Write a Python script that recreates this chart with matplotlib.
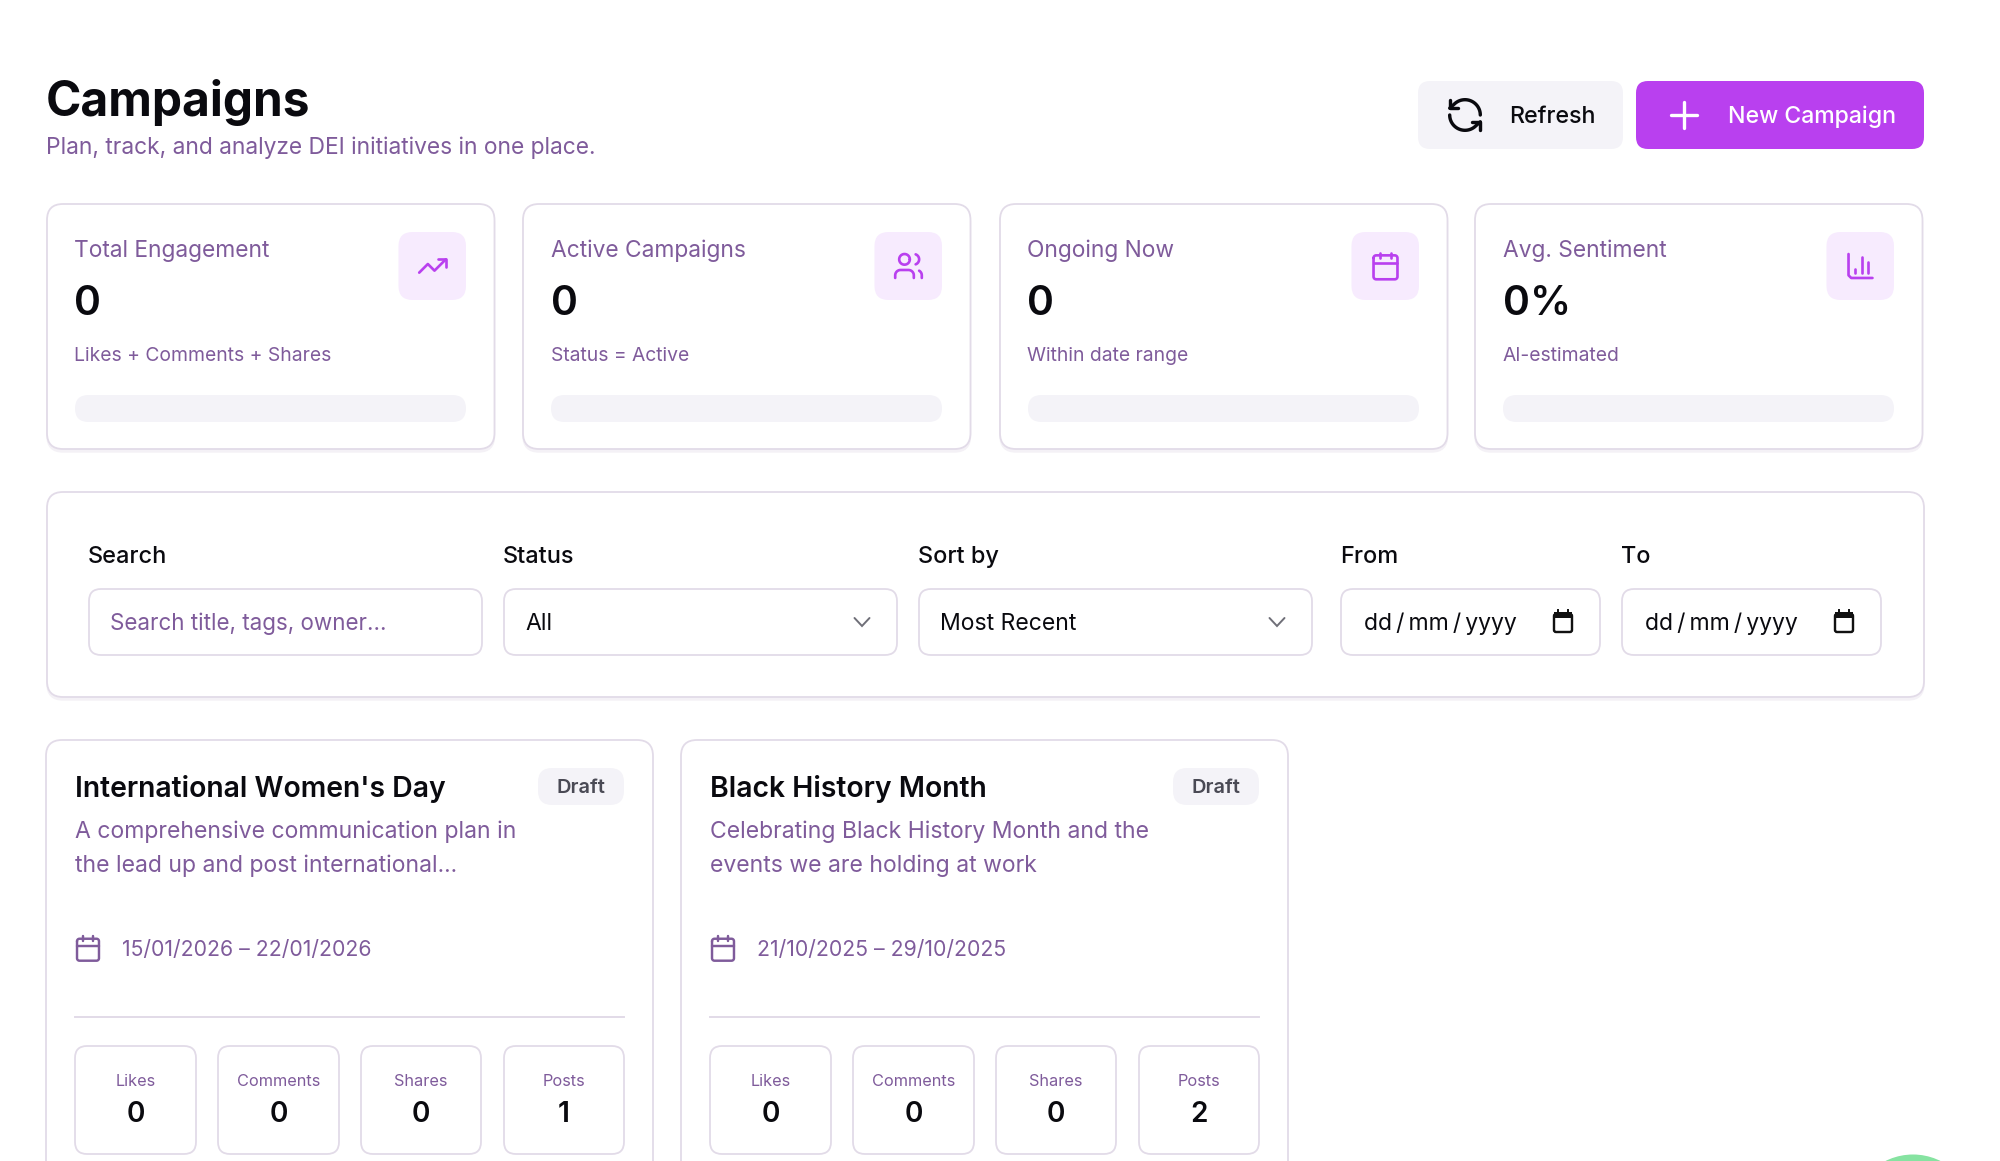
"""
Campaigns dashboard screenshot redrawn with matplotlib
"""

import numpy as np
import matplotlib
matplotlib.use('Agg')
import matplotlib.pyplot as plt
from matplotlib.patches import FancyBboxPatch, Circle

plt.rcParams['font.family'] = ['Inter', 'DejaVu Sans']

# Content
page_title = 'Campaigns'
page_subtitle = 'Plan, track, and analyze DEI initiatives in one place.'
refresh_label = 'Refresh'
new_label = 'New Campaign'

kpi_titles = ['Total Engagement', 'Active Campaigns', 'Ongoing Now', 'Avg. Sentiment']
kpi_values = ['0', '0', '0', '0%']
kpi_notes = ['Likes + Comments + Shares', 'Status = Active', 'Within date range', 'AI-estimated']
kpi_icons = ['trend', 'users', 'calendar', 'bars']

filter_labels = ['Search', 'Status', 'Sort by', 'From', 'To']
filter_texts = ['Search title, tags, owner...', 'All', 'Most Recent',
                'dd\u2009/\u2009mm\u2009/\u2009yyyy', 'dd\u2009/\u2009mm\u2009/\u2009yyyy']

campaign_titles = ["International Women's Day", 'Black History Month']
campaign_status = ['Draft', 'Draft']
campaign_desc = [['A comprehensive communication plan in', 'the lead up and post international...'],
                 ['Celebrating Black History Month and the', 'events we are holding at work']]
campaign_dates = ['15/01/2026 – 22/01/2026', '21/10/2025 – 29/10/2025']
stat_labels = ['Likes', 'Comments', 'Shares', 'Posts']
campaign_stats = [[0, 0, 0, 1], [0, 0, 0, 2]]

# Colours
INK = '#0a0a0f'
MUTED = '#7f5b9b'
ACCENT = '#b940ef'
BORDER = '#e2dbe8'
SHADOW = '#f4f1f6'
SOFT = '#f4f3f8'
ICON_BG = '#f7ebfe'

W, H = 2000, 1161
fig = plt.figure(figsize=(W / 100, H / 100), dpi=100)
ax = fig.add_axes([0, 0, 1, 1])
ax.set_xlim(0, W)
ax.set_ylim(H, 0)
ax.axis('off')


def box(x0, y0, x1, y1, r, fc='white', ec='none', lw=0, shadow=False):
    # lw given in screen pixels
    if shadow:
        ax.add_patch(FancyBboxPatch((x0, y0 + 3), x1 - x0, y1 - y0,
                                    boxstyle=f'round,pad=0,rounding_size={r}',
                                    fc=SHADOW, ec=SHADOW, lw=1.0))
    ax.add_patch(FancyBboxPatch((x0, y0), x1 - x0, y1 - y0,
                                boxstyle=f'round,pad=0,rounding_size={r}',
                                fc=fc, ec=ec, lw=lw * 0.72))


def label(x, y, s, px, color=INK, weight='normal', ha='left'):
    # the glyph side bearing pushes left aligned text about a pixel to the right
    if ha == 'left':
        x -= 1
    return ax.text(x, y, s, fontsize=px * 0.72, color=color, fontweight=weight,
                   ha=ha, va='baseline')


def stroke(cx, cy, s, pts, color, lw=2.0):
    # pts are in a 24-unit icon grid centred on (12, 12)
    pts = np.asarray(pts, dtype=float)
    ax.plot(cx + (pts[:, 0] - 12) * s, cy + (pts[:, 1] - 12) * s, color=color,
            lw=lw * s * 0.72, solid_capstyle='round', solid_joinstyle='round')


def arc(x, y, r, a0, a1, n=40):
    t = np.radians(np.linspace(a0, a1, n))
    return np.column_stack([x + r * np.cos(t), y + r * np.sin(t)])


def icon_calendar(cx, cy, s, color):
    outline = np.vstack([arc(5, 6, 2, 180, 270, 8), arc(19, 6, 2, 270, 360, 8),
                         arc(19, 20, 2, 0, 90, 8), arc(5, 20, 2, 90, 180, 8), arc(5, 6, 2, 180, 181, 2)])
    stroke(cx, cy, s, outline, color)
    stroke(cx, cy, s, [(8, 2), (8, 6)], color)
    stroke(cx, cy, s, [(16, 2), (16, 6)], color)
    stroke(cx, cy, s, [(3, 10), (21, 10)], color)


def icon_trend(cx, cy, s, color):
    stroke(cx, cy, s, [(2, 17), (8.5, 10.5), (13.5, 15.5), (22, 7)], color)
    stroke(cx, cy, s, [(16, 7), (22, 7), (22, 13)], color)


def icon_users(cx, cy, s, color):
    stroke(cx, cy, s, arc(9, 7, 4, 0, 360), color)
    stroke(cx, cy, s, np.vstack([[(2, 21), (2, 19)], arc(6, 19, 4, 180, 270, 12),
                                 arc(12, 19, 4, 270, 360, 12), [(16, 21)]]), color)
    stroke(cx, cy, s, arc(16, 7, 4, -70, 70, 14), color)
    stroke(cx, cy, s, np.vstack([arc(18, 19, 4, -60, 0, 10), [(22, 21)]]), color)


def icon_bars(cx, cy, s, color):
    stroke(cx, cy, s, [(3, 3), (3, 19), (5, 21), (21, 21)], color)
    stroke(cx, cy, s, [(18, 17), (18, 9)], color)
    stroke(cx, cy, s, [(13, 17), (13, 5)], color)
    stroke(cx, cy, s, [(8, 17), (8, 14)], color)


def icon_refresh(cx, cy, s, color):
    stroke(cx, cy, s, np.vstack([arc(12, 12, 9, 0, -135), [(3, 8)]]), color)
    stroke(cx, cy, s, [(3, 3), (3, 8), (8, 8)], color)
    stroke(cx, cy, s, np.vstack([arc(12, 12, 9, 180, 45), [(21, 16)]]), color)
    stroke(cx, cy, s, [(16, 16), (21, 16), (21, 21)], color)


ICONS = {'trend': icon_trend, 'users': icon_users, 'calendar': icon_calendar, 'bars': icon_bars}

# Header
label(47, 116, page_title, 47.8, weight='bold')
label(47, 154, page_subtitle, 22.8, color=MUTED)

box(1418, 81, 1623, 149, 12, fc=SOFT)
icon_refresh(1465, 115, 1.7, INK)
label(1510, 123, refresh_label, 23.3, weight='medium')

box(1636, 81, 1924, 149, 12, fc=ACCENT)
ax.plot([1671, 1697], [115, 115], color='white', lw=2.4, solid_capstyle='round')
ax.plot([1684, 1684], [102, 128], color='white', lw=2.4, solid_capstyle='round')
label(1729, 123, new_label, 23.1, color='white', weight='medium')

# KPI cards
kpi_left = [47, 523, 1000, 1475]
for i, (x0, title, value, note, icon) in enumerate(zip(kpi_left, kpi_titles, kpi_values, kpi_notes, kpi_icons)):
    tx = x0 + 28 + i % 2
    box(x0, 204, x0 + 447.5, 449, 16, ec=BORDER, lw=1.8, shadow=True)
    label(tx, 257, title, 22.8, color=MUTED)
    label(tx, 315, value, 41, weight='semibold')
    label(tx, 361, note, 19.3, color=MUTED)
    box(x0 + 28, 395, x0 + 419, 422, 13.5, fc=SOFT)
    box(x0 + 351.5, 232, x0 + 419, 300, 14, fc=ICON_BG)
    ICONS[icon](x0 + 385.5, 266, 1.33, ACCENT)

# Filter panel
box(47, 492, 1924, 697, 16, ec=BORDER, lw=1.8, shadow=True)
input_left = [89, 504, 919, 1341, 1622]
input_right = [482, 897, 1312, 1600, 1881]
for i, (x0, x1, head, txt) in enumerate(zip(input_left, input_right, filter_labels, filter_texts)):
    label(x0, 563, head, 23.5, weight='medium')
    box(x0, 589, x1, 655, 12, ec=BORDER, lw=1.8)
    label(x0 + 22 + (2 if i > 2 else 0), 630, txt, 22.4 if i == 0 else 23, color=MUTED if i == 0 else INK)
    if i in (1, 2):
        cx = x1 - 35
        ax.plot([cx - 7.5, cx, cx + 7.5], [618, 626, 618], color='#6f6f78', lw=1.4,
                solid_capstyle='round', solid_joinstyle='miter')
    if i > 2:
        cx = x1 - 37
        box(cx - 9, 614, cx + 9, 632, 2, ec='#111111', lw=2.4)
        ax.fill_between([cx - 9, cx + 9], 612, 618, color='#111111', lw=0)
        ax.plot([cx - 5, cx - 5], [610, 614], color='#111111', lw=1.4)
        ax.plot([cx + 5, cx + 5], [610, 614], color='#111111', lw=1.4)

# Campaign cards, the bottom is cut off by the screenshot
card_shift = [0, 635]
stat_left = [75, 218, 361, 504]
stat_right = [196, 339, 481, 624]
for dx, title, status, desc, dates, stats in zip(card_shift, campaign_titles, campaign_status,
                                                 campaign_desc, campaign_dates, campaign_stats):
    box(46 + dx, 740, 653 + dx, 1300, 16, ec=BORDER, lw=1.8)
    label(76 + dx, 797, title, 28.4, weight='semibold')
    box(538 + dx, 768, 624 + dx, 805, 14, fc=SOFT)
    label(581 + dx, 793, status, 20, color='#4a4a55', weight='semibold', ha='center')
    label(76 + dx, 838, desc[0], 23, color=MUTED)
    label(76 + dx, 872, desc[1], 23, color=MUTED)
    icon_calendar(88 + dx, 948.5, 1.22, MUTED)
    label(123 + dx, 956, dates, 21.2, color=MUTED)
    ax.plot([75 + dx, 624 + dx], [1017, 1017], color=BORDER, lw=1.4)
    for x0, x1, name, val in zip(stat_left, stat_right, stat_labels, stats):
        box(x0 + dx, 1046, x1 + dx, 1154, 12, ec=BORDER, lw=1.8)
        mid = (x0 + x1) / 2 + dx
        label(mid, 1086, name, 16.3, color=MUTED, ha='center')
        label(mid, 1122, str(val), 28, weight='semibold', ha='center')

# Chat bubble peeking in at the bottom right corner
ax.add_patch(Circle((1913, 1216), 61.5, fc='#86e3a1', ec='none'))

plt.savefig('out.png', dpi=100)
plt.close()
